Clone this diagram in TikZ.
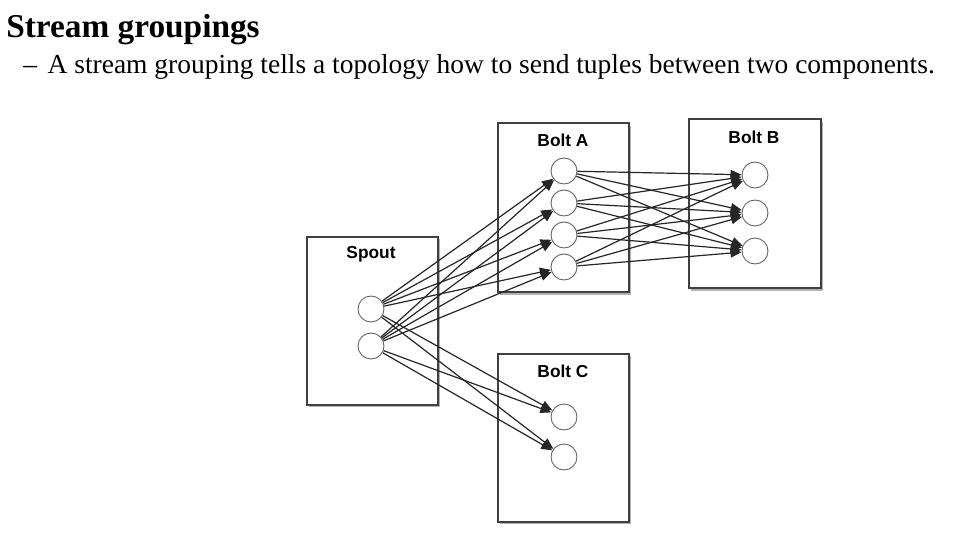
\documentclass[tikz,border=0pt]{standalone}
\usepackage{fontspec}
\setmainfont{Liberation Serif}
\newfontfamily\boltfont{Liberation Sans}
\usetikzlibrary{arrows}

\tikzset{
  boltbox/.style={draw=black!75,line width=1.1pt,fill=white,rectangle,inner sep=0pt},
  boltshadow/.style={fill=black!30,rectangle,inner sep=0pt},
  task/.style={draw=black!60,line width=0.7pt,fill=white,circle,minimum size=19.5pt,inner sep=0pt},
  feed/.style={draw=black!85,line width=0.9pt,-triangle 45}
}

\begin{document}
\begin{tikzpicture}[x=0.75pt,y=0.75pt,yscale=-1,xscale=1]
\path[use as bounding box] (0,0) rectangle (960,539);

% Text Node
\draw (5,37) node [anchor=base west][inner sep=0.75pt] (title) {\fontsize{25}{30}\selectfont\bfseries Stream groupings};
% Text Node
\draw (22,73) node [anchor=base west][inner sep=0.75pt] (subtitle) {\fontsize{20.6}{24}\selectfont –\hspace{8pt}A stream grouping tells a topology how to send tuples between two components.};

%Shape: Rectangle [id:spoutbox]
\draw (374,323) node [boltshadow,minimum width=98.25pt,minimum height=126pt] {};
\draw (372.5,321) node [boltbox,minimum width=98.25pt,minimum height=126pt] (spout) {};
%Shape: Rectangle [id:boltabox]
\draw (565,210) node [boltshadow,minimum width=98.25pt,minimum height=126.75pt] {};
\draw (563.5,207.5) node [boltbox,minimum width=98.25pt,minimum height=126.75pt] (bolta) {};
%Shape: Rectangle [id:boltbbox]
\draw (757,206) node [boltshadow,minimum width=99pt,minimum height=126.75pt] {};
\draw (755,203.5) node [boltbox,minimum width=99pt,minimum height=126.75pt] (boltb) {};
%Shape: Rectangle [id:boltcbox]
\draw (565,440) node [boltshadow,minimum width=98.25pt,minimum height=126pt] {};
\draw (563.5,438) node [boltbox,minimum width=98.25pt,minimum height=126pt] (boltc) {};

% Text Node
\draw (371,254) node [inner sep=0.75pt] (spoutlabel) {\boltfont\fontsize{13}{15}\selectfont\bfseries Spout};
% Text Node
\draw (563,140) node [inner sep=0.75pt] (boltalabel) {\boltfont\fontsize{13}{15}\selectfont\bfseries Bolt A};
% Text Node
\draw (754,137) node [inner sep=0.75pt] (boltblabel) {\boltfont\fontsize{13}{15}\selectfont\bfseries Bolt B};
% Text Node
\draw (563,371) node [inner sep=0.75pt] (boltclabel) {\boltfont\fontsize{13}{15}\selectfont\bfseries Bolt C};

%Shape: Circle [id:tasks]
\draw (371,309) node [task] (s1) {};
\draw (371,346) node [task] (s2) {};
\draw (564,171) node [task] (a1) {};
\draw (564,203) node [task] (a2) {};
\draw (564,235) node [task] (a3) {};
\draw (564,267) node [task] (a4) {};
\draw (755,175) node [task] (b1) {};
\draw (755,213) node [task] (b2) {};
\draw (755,251) node [task] (b3) {};
\draw (564,417) node [task] (c1) {};
\draw (564,457) node [task] (c2) {};

%Straight Lines [id:spout to bolt a]
\draw [feed] (s1) -- (a1);
\draw [feed] (s1) -- (a2);
\draw [feed] (s1) -- (a3);
\draw [feed] (s1) -- (a4);
\draw [feed] (s2) -- (a1);
\draw [feed] (s2) -- (a2);
\draw [feed] (s2) -- (a3);
\draw [feed] (s2) -- (a4);
%Straight Lines [id:bolt a to bolt b]
\draw [feed] (a1) -- (b1);
\draw [feed] (a1) -- (b2);
\draw [feed] (a1) -- (b3);
\draw [feed] (a2) -- (b1);
\draw [feed] (a2) -- (b2);
\draw [feed] (a2) -- (b3);
\draw [feed] (a3) -- (b1);
\draw [feed] (a3) -- (b2);
\draw [feed] (a3) -- (b3);
\draw [feed] (a4) -- (b1);
\draw [feed] (a4) -- (b2);
\draw [feed] (a4) -- (b3);
%Straight Lines [id:spout to bolt c]
\draw [feed] (s1) -- (c1);
\draw [feed] (s1) -- (c2);
\draw [feed] (s2) -- (c1);
\draw [feed] (s2) -- (c2);

\end{tikzpicture}
\end{document}
